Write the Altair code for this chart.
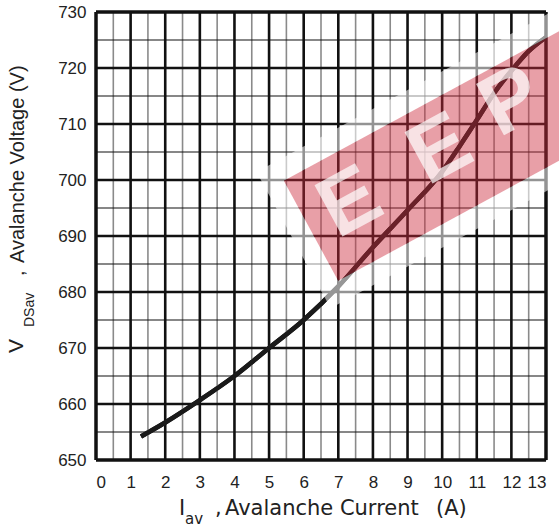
import altair as alt
import pandas as pd

# ---- data ----
current_a = [1.3, 2, 3, 4, 5, 6, 7, 8, 9, 10, 10.5, 11, 11.5, 12, 12.5, 13]
voltage_v = [654.2, 656.7, 660.7, 665.0, 670.0, 675.0, 681.0, 688.0, 694.6, 701.5, 706.0, 710.7, 715.5, 719.5, 723.0, 725.5]

x_ticks = list(range(0, 14))
y_ticks = list(range(650, 731, 10))
x_minor = [i + 0.5 for i in range(13)]
y_minor = [655 + 10 * i for i in range(8)]
x_major = list(range(1, 13))
y_major = list(range(660, 721, 10))

# watermark letters (decoration)
wm_letters = ["E", "E", "P"]
wm_x = [7.34, 9.94, 12.0]
wm_y = [695.9, 705.4, 714.0]

W, H = 450, 448
xs = alt.Scale(domain=[0, 13], nice=False, zero=False)
ys = alt.Scale(domain=[650, 730], nice=False, zero=False)

x_axis = alt.Axis(values=x_ticks, title=None, ticks=False, domain=False, grid=False,
                  labelFontSize=17, labelColor="#222", labelPadding=14, labelFont="Liberation Sans")
y_axis = alt.Axis(values=y_ticks, title=None, ticks=False, domain=False, grid=False,
                  labelFontSize=17, labelColor="#222", labelPadding=10, labelFont="Liberation Sans")

curve = pd.DataFrame({"I": current_a, "V": voltage_v})

def vrules(vals, color, width):
    return alt.Chart(pd.DataFrame({"v": vals})).mark_rule(color=color, strokeWidth=width).encode(
        x=alt.X("v:Q", scale=xs, axis=x_axis))

def hrules(vals, color, width):
    return alt.Chart(pd.DataFrame({"v": vals})).mark_rule(color=color, strokeWidth=width).encode(
        y=alt.Y("v:Q", scale=ys, axis=y_axis))

line = alt.Chart(curve).mark_line(color="#1a1a1a", strokeWidth=4.5, interpolate="monotone").encode(
    x=alt.X("I:Q", scale=xs, axis=x_axis),
    y=alt.Y("V:Q", scale=ys, axis=y_axis),
)

border = alt.layer(
    vrules([0, 13], "#111", 3.5),
    hrules([650, 730], "#111", 3.5),
)

wm = pd.DataFrame({"x": [10.4], "y": [705.0]})
halo = alt.Chart(wm).mark_point(
    shape="M-1.12,-0.47L1.12,-0.47L1.12,0.47L-1.12,0.47Z M-1,-0.345L-1,0.345L1,0.345L1,-0.345Z",
    filled=True, fill="white", opacity=0.55,
    size=330 ** 2, angle=331.5, strokeWidth=0).encode(
    x=alt.X("x:Q", scale=xs, axis=x_axis), y=alt.Y("y:Q", scale=ys, axis=y_axis))
band = alt.Chart(wm).mark_point(
    shape="M-1,-0.345L1,-0.345L1,0.345L-1,0.345Z", filled=True, fill="#cc2a3c", opacity=0.45,
    size=330 ** 2, angle=331.5, strokeWidth=0).encode(
    x=alt.X("x:Q", scale=xs, axis=x_axis), y=alt.Y("y:Q", scale=ys, axis=y_axis))
letters = alt.Chart(pd.DataFrame({"x": wm_x, "y": wm_y, "t": wm_letters})).mark_text(
    font="Liberation Sans", fontWeight="bold", fontSize=85, color="white", opacity=0.7,
    angle=331.5, align="center", baseline="middle").encode(
    x=alt.X("x:Q", scale=xs, axis=x_axis), y=alt.Y("y:Q", scale=ys, axis=y_axis), text="t:N")

one = pd.DataFrame({"a": [0]})
def label(txt, x, y, size, angle=0, font="Liberation Sans"):
    return alt.Chart(one).mark_text(text=txt, font=font, fontSize=size, color="#222",
                                    align="left", baseline="alphabetic", angle=angle).encode(
        x=alt.value(x), y=alt.value(y))

titles = alt.layer(
    label("I", 83, 503, 21, font="DejaVu Sans"),
    label("av", 89, 512, 15, font="DejaVu Sans"),
    label(",", 119, 503, 21, font="DejaVu Sans"),
    label("Avalanche Current", 129, 503, 21, font="DejaVu Sans"),
    label("(A)", 340, 503, 21, font="DejaVu Sans"),
    label("V", -73, 341, 21, 270),
    label("DSav", -62, 315, 14, 270),
    label(",", -72, 264, 20, 270),
    label("Avalanche Voltage (V)", -72, 251, 20, 270),
)

chart = alt.layer(
    line,
    vrules(x_minor, "#8a8a8a", 1.6),
    hrules(y_minor, "#111", 1.2),
    vrules(x_major, "#111", 2.6),
    hrules(y_major, "#111", 2.6),
    line,
    border,
    halo,
    band,
    letters,
    titles,
).properties(
    width=W, height=H,
    padding={"left": 96, "top": 12, "right": 13, "bottom": 67},
    autosize=alt.AutoSizeParams(type="none"),
).configure_view(stroke=None).configure(background="white")

chart.save("out.html", embed_options={"renderer": "svg", "actions": False})
